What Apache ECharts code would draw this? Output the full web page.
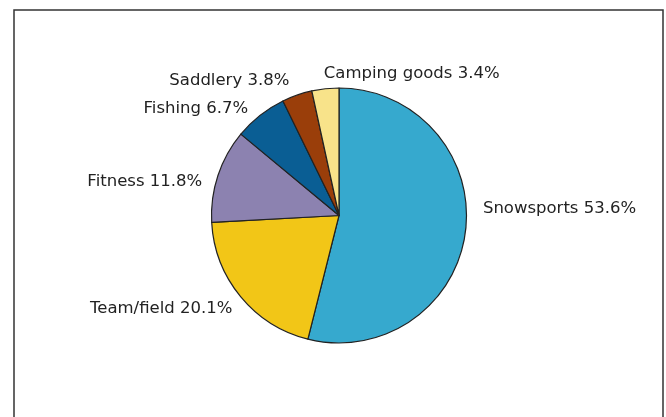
<!DOCTYPE html>
<html>
<head>
<meta charset="utf-8">
<script src="https://cdn.jsdelivr.net/npm/echarts@6/dist/echarts.min.js"></script>
<style>
  html, body { margin: 0; padding: 0; background: #fff; }
  #chart { width: 666px; height: 417px; }
</style>
</head>
<body>
<div id="chart"></div>
<script>
// Sales share by sporting-goods segment
const categories = ['Snowsports', 'Team/field', 'Fitness', 'Fishing', 'Saddlery', 'Camping goods'];
const shares = [53.6, 20.1, 11.8, 6.7, 3.8, 3.4];
const colors = ['#36A9CE', '#F2C617', '#8C82B0', '#0A5E94', '#9A3E0A', '#F8E38A'];

// Pie geometry and label placement
const CX = 339, CY = 215.5, R = 127.5, LABEL_R = 142;
const labelNudge = [[3, -24.5], [3, 2.5], [-2, 10.5], [-3, 4.5], [-3, -0.5], [0, -0.5]];
const labelAlign = ['left', 'right', 'right', 'right', 'right', 'left'];

const total = shares.reduce((a, b) => a + b, 0);
const midAngles = [];
{
  let acc = 0;
  shares.forEach(v => {
    midAngles.push((acc + v / 2) / total * 2 * Math.PI);
    acc += v;
  });
}

const chart = echarts.init(document.getElementById('chart'), null, { renderer: 'canvas' });

chart.setOption({
  backgroundColor: '#ffffff',
  animation: false,
  graphic: [{
    type: 'rect',
    shape: { x: 14, y: 10, width: 649, height: 430 },
    style: { fill: 'none', stroke: '#333', lineWidth: 1.5 },
    silent: true
  }],
  series: [{
    type: 'pie',
    center: [CX, CY],
    radius: R,
    startAngle: 90,
    clockwise: true,
    avoidLabelOverlap: false,
    itemStyle: { borderColor: '#222', borderWidth: 1.2 },
    label: {
      show: true,
      position: 'outside',
      fontFamily: 'DejaVu Sans',
      fontSize: 16.5,
      color: '#222',
      formatter: p => p.name + ' ' + p.value.toFixed(1) + '%'
    },
    labelLine: { show: false },
    labelLayout: params => {
      const i = params.dataIndex;
      const a = midAngles[i];
      return {
        x: CX + LABEL_R * Math.sin(a) + labelNudge[i][0],
        y: CY - LABEL_R * Math.cos(a) + labelNudge[i][1],
        align: labelAlign[i],
        verticalAlign: 'middle',
        hideOverlap: false
      };
    },
    data: categories.map((name, i) => ({
      name: name,
      value: shares[i],
      itemStyle: { color: colors[i] }
    }))
  }]
});
</script>
</body>
</html>
